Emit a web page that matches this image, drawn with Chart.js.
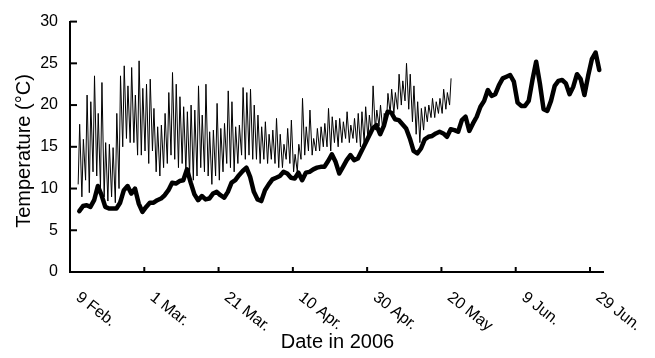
<!DOCTYPE html>
<html>
<head>
<meta charset="utf-8">
<script src="https://cdn.jsdelivr.net/npm/chart.js@4.4.1/dist/chart.umd.min.js"></script>
<style>
  html, body { margin: 0; padding: 0; background: #fff; }
  #wrap { width: 655px; height: 358px; }
</style>
</head>
<body>
<div id="wrap"><canvas id="chart"></canvas></div>
<script>
const FONT = '"Liberation Sans", Arial, sans-serif'

// x axis: days counted from 9 Feb 2006
const dateLabels = ['9 Feb.', '1 Mar.', '21 Mar.', '10 Apr.', '30 Apr.', '20 May', '9 Jun.', '29 Jun.']
const labelDays  = [0, 20, 40, 60, 80, 100, 120, 140]
const yTicks     = [0, 5, 10, 15, 20, 25, 30]

// thin line: daily minimum / maximum, from day 2 (11 Feb) to day 102
const thinStartDay = 2
const thinMax = [
  17.7, 15.9, 21.2, 20.4, 23.5, 19.0, 22.7, 15.5, 15.3, 14.9,
  19.0, 23.5, 24.7, 22.3, 24.5, 21.2, 25.3, 22.0, 22.5, 23.1,
  19.6, 17.4, 17.6, 19.0, 21.5, 23.9, 22.5, 21.0, 19.8, 19.2,
  20.0, 19.4, 22.3, 18.8, 22.5, 16.8, 17.0, 20.2, 17.2, 17.8,
  21.7, 20.4, 17.4, 17.6, 22.1, 21.5, 21.9, 20.0, 18.8, 17.4,
  18.0, 16.5, 17.0, 18.4, 16.5, 15.3, 17.2, 18.2, 14.1, 15.3,
  20.8, 17.4, 19.4, 16.0, 17.2, 17.4, 17.8, 19.6, 18.6, 18.2,
  18.4, 18.0, 19.2, 17.6, 18.4, 19.0, 19.2, 19.8, 18.8, 22.3,
  19.4, 20.0, 19.0, 21.4, 21.9, 21.5, 23.7, 22.9, 25.0, 23.7,
  22.3, 20.4, 19.6, 19.8, 20.0, 20.8, 20.4, 20.8, 21.9, 21.5,
  23.2,
]
const thinMin = [
  10.5,  9.0, 11.0,  9.5, 12.0, 11.5, 10.0,  9.0,  8.5,  9.0,
   8.3, 10.0, 15.0, 16.0, 15.5, 15.5, 14.0, 14.0, 14.5, 13.0,
  14.5, 12.0, 11.5, 12.5, 13.0, 14.0, 13.5, 12.5, 13.0, 12.0,
  11.5, 11.0, 11.5, 12.5, 12.0, 11.5, 10.5, 11.5, 11.0, 12.0,
  13.0, 12.5, 12.0, 13.0, 14.0, 13.5, 14.0, 13.5, 13.5, 13.0,
  13.5, 13.0, 13.5, 13.0, 12.5, 12.5, 13.5, 13.0, 12.0, 12.0,
  13.5, 14.0, 14.5, 14.0, 14.5, 14.5, 15.0, 15.0, 14.5, 15.5,
  15.0, 15.5, 16.0, 15.5, 16.0, 15.5, 15.0, 15.5, 16.0, 16.5,
  17.0, 17.5, 17.0, 18.0, 19.0, 19.0, 19.5, 20.0, 20.5, 19.5,
  18.0, 16.5, 15.5, 17.0, 18.0, 18.5, 18.5, 19.0, 19.0, 19.5,
  20.0,
]

// thick line: daily mean, from day 2 to day 142
const thickStartDay = 2
const thickMean = [
   7.3,  7.9,  8.0,  7.8,  8.6, 10.3,  9.2,  7.8,  7.6,  7.6,
   7.6,  8.3,  9.8, 10.3,  9.4, 10.0,  8.2,  7.2,  7.8,  8.3,
   8.3,  8.6,  8.8,  9.2,  9.8, 10.7, 10.6, 10.9, 11.0, 12.3,
  10.7,  9.3,  8.6,  9.1,  8.7,  8.8,  9.4,  9.6,  9.2,  8.9,
   9.6, 10.7, 11.0, 11.6, 12.1, 12.5, 11.4,  9.6,  8.7,  8.5,
   9.8, 10.5, 11.1, 11.3, 11.5, 12.0, 11.8, 11.3, 11.2, 11.9,
  11.0, 11.9, 12.0, 12.3, 12.5, 12.6, 12.6, 13.3, 14.1, 13.2,
  11.8, 12.6, 13.4, 14.0, 13.4, 13.6, 14.5, 15.4, 16.3, 17.2,
  17.6, 16.5, 17.5, 19.2, 19.1, 18.3, 18.2, 17.7, 17.2, 16.0,
  14.5, 14.2, 14.8, 15.9, 16.2, 16.3, 16.6, 16.8, 16.6, 16.2,
  17.1, 17.0, 16.8, 18.2, 18.6, 16.9, 17.8, 18.6, 19.8, 20.5,
  21.8, 21.1, 21.3, 22.4, 23.2, 23.4, 23.6, 22.8, 20.3, 19.9,
  19.9, 20.5, 23.0, 25.2, 22.6, 19.5, 19.3, 20.5, 22.3, 22.9,
  23.0, 22.6, 21.3, 22.2, 23.7, 23.1, 21.2, 23.5, 25.5, 26.3,
  24.2,
]

const thinPoints = []
thinMin.forEach((v, i) => {
  thinPoints.push({ x: thinStartDay + i + 0.2, y: v })
  thinPoints.push({ x: thinStartDay + i + 0.6, y: thinMax[i] })
})
const thickPoints = thickMean.map((v, i) => ({ x: thickStartDay + i + 0.5, y: v }))

// inward tick marks, slanted date labels and axis titles
const axisDecor = {
  id: 'axisDecor',
  afterDraw(chart) {
    const { ctx, chartArea: { left, right, bottom }, scales: { x, y } } = chart
    const line = (x1, y1, x2, y2) => { ctx.beginPath(); ctx.moveTo(x1, y1); ctx.lineTo(x2, y2); ctx.stroke() }
    ctx.save()
    ctx.strokeStyle = '#000'
    ctx.lineWidth = 2
    yTicks.forEach(v => { const py = y.getPixelForValue(v); line(left, py, left + 7, py) })
    labelDays.forEach(d => { const px = x.getPixelForValue(d); line(px, bottom, px, bottom - 5) })

    ctx.fillStyle = '#000'
    ctx.font = `16px ${FONT}`
    ctx.textAlign = 'left'
    ctx.textBaseline = 'alphabetic'
    labelDays.forEach((d, i) => {
      const px = x.getPixelForValue(d)
      ctx.save()
      ctx.translate(px + 5, bottom + 27)
      ctx.rotate(38 * Math.PI / 180)
      ctx.fillText(dateLabels[i], 0, 0)
      ctx.restore()
    })

    ctx.font = `20px ${FONT}`
    ctx.textAlign = 'center'
    ctx.textBaseline = 'middle'
    ctx.fillText('Date in 2006', (left + right) / 2 + 1, 342)
    ctx.translate(24, 151)
    ctx.rotate(-Math.PI / 2)
    ctx.fillText('Temperature (°C)', 0, 0)
    ctx.restore()
  }
}

new Chart(document.getElementById('chart'), {
  type: 'line',
  data: {
    datasets: [
      {
        label: 'thin',
        data: thinPoints,
        borderColor: '#000',
        borderWidth: 1,
        pointRadius: 0,
        tension: 0,
      },
      {
        label: 'thick',
        data: thickPoints,
        borderColor: '#000',
        borderWidth: 4.5,
        borderJoinStyle: 'round',
        borderCapStyle: 'round',
        pointRadius: 0,
        tension: 0,
      },
    ],
  },
  options: {
    responsive: true, maintainAspectRatio: false,
    animation: false,
    layout: { padding: { top: 15, right: 52, left: 0, bottom: 0 } },
    plugins: { legend: { display: false }, tooltip: { enabled: false } },
    scales: {
      x: {
        type: 'linear', min: 0, max: 143.5,
        ticks: { display: false },
        grid: { drawOnChartArea: false, drawTicks: false },
        border: { display: true, color: '#000', width: 2 },
        afterFit: s => { s.height = 86 },
      },
      y: {
        min: 0, max: 30,
        ticks: { stepSize: 5, color: '#000', padding: 12, font: { family: FONT, size: 16 } },
        grid: { drawOnChartArea: false, drawTicks: false },
        border: { display: true, color: '#000', width: 2 },
        afterFit: s => { s.width = 70 },
      },
    },
  },
  plugins: [axisDecor],
})
</script>
</body>
</html>
